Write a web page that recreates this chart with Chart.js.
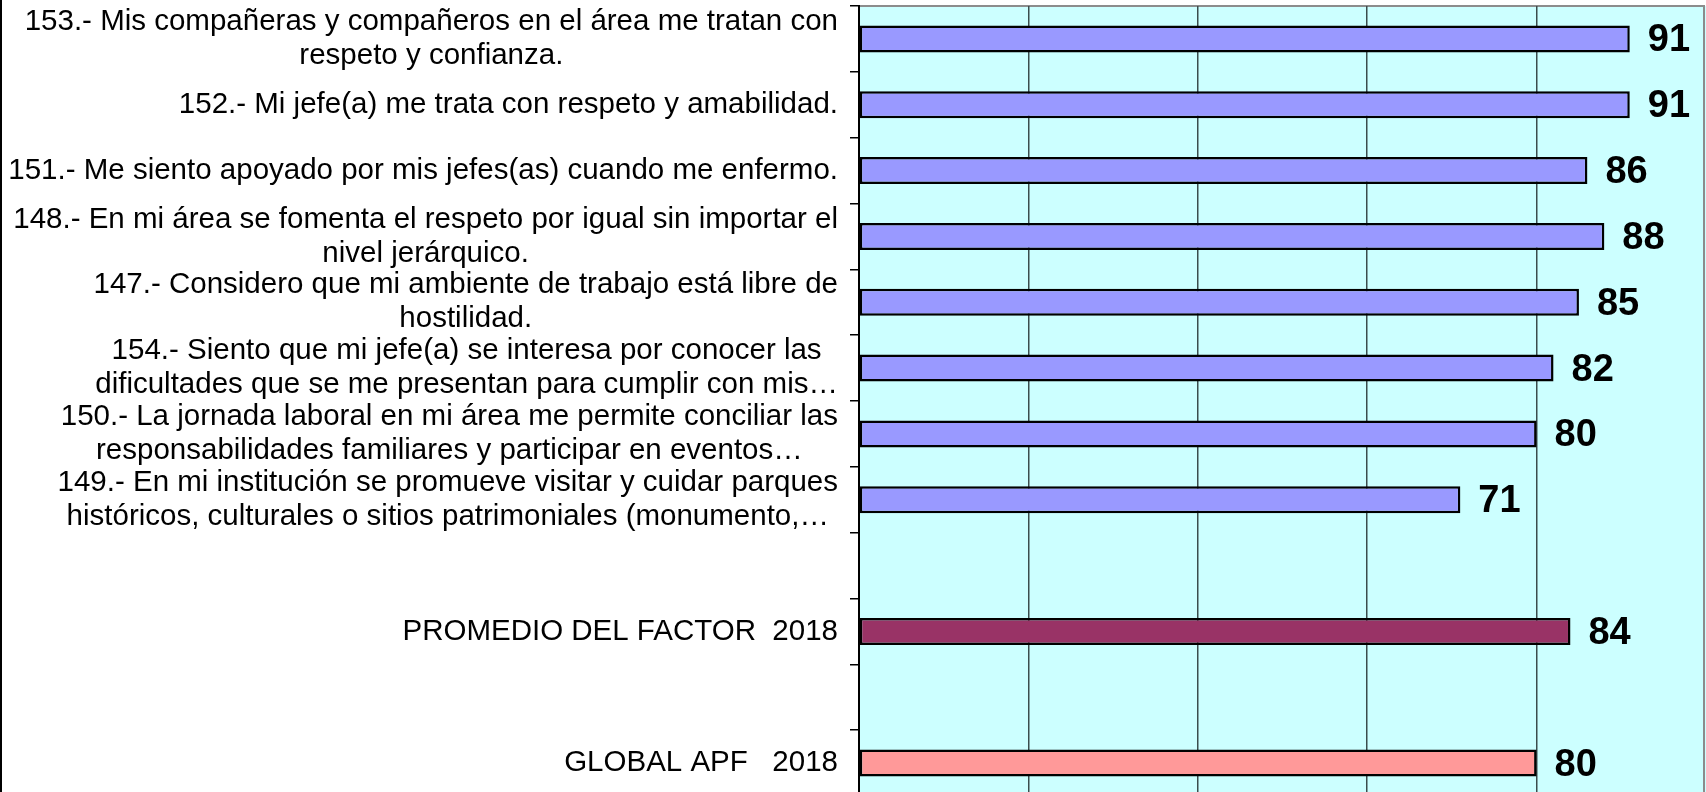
<!DOCTYPE html>
<html>
<head>
<meta charset="utf-8">
<title>Factor 2018</title>
<script src="https://cdn.jsdelivr.net/npm/chart.js@4/dist/chart.umd.min.js"></script>
<style>
  html, body { margin: 0; padding: 0; background: #fff; overflow: hidden; }
  #wrap { position: absolute; left: 0; top: 0; width: 1706px; height: 796px; }
</style>
</head>
<body>
<div id="wrap"><canvas id="factorChart" width="1706" height="796"></canvas></div>
<script>
// Data (top to bottom)
const itemLabels = [
  ['153.- Mis compañeras y compañeros en el área me tratan con', 'respeto y confianza.'],
  ['152.- Mi jefe(a) me trata con respeto y amabilidad.'],
  ['151.- Me siento apoyado por mis jefes(as) cuando me enfermo.'],
  ['148.- En mi área se fomenta el respeto por igual sin importar el', 'nivel jerárquico.'],
  ['147.- Considero que mi ambiente de trabajo está libre de', 'hostilidad.'],
  ['154.- Siento que mi jefe(a) se interesa por conocer las', 'dificultades que se me presentan para cumplir con mis…'],
  ['150.- La jornada laboral en mi área me permite conciliar las', 'responsabilidades familiares y participar en eventos…'],
  ['149.- En mi institución se promueve visitar y cuidar parques', 'históricos, culturales o sitios patrimoniales (monumento,…'],
  [''],
  ['PROMEDIO DEL FACTOR  2018'],
  [''],
  ['GLOBAL APF   2018'],
];
const itemValues = [91, 91, 86, 88, 85, 82, 80, 71, null, 84, null, 80];
const barColors = ['#9999FF', '#9999FF', '#9999FF', '#9999FF', '#9999FF', '#9999FF', '#9999FF', '#9999FF',
  '#9999FF', '#993366', '#9999FF', '#FF9999'];
const xTicks = [0, 20, 40, 60, 80, 100];

const labelFont = '29.5px "Liberation Sans", Arial, sans-serif';
const valueFont = 'bold 38px "Liberation Sans", Arial, sans-serif';

// plot background + frame
const plotBg = {
  id: 'plotBg',
  beforeDraw(chart) {
    const { ctx, chartArea: a } = chart;
    ctx.save();
    ctx.fillStyle = '#CCFFFF';
    ctx.fillRect(a.left, a.top, a.right - a.left, a.bottom - a.top);
    ctx.strokeStyle = '#8c8c8c';
    ctx.lineWidth = 2;
    ctx.beginPath();
    ctx.moveTo(a.left, a.top);
    ctx.lineTo(a.right - 2, a.top);
    ctx.lineTo(a.right - 2, a.bottom);
    ctx.stroke();
    // outer chart border on the left
    ctx.fillStyle = '#000';
    ctx.fillRect(0, 0, 2, chart.height);
    ctx.restore();
  }
};

// category labels: block right-aligned, lines centred within the block
const catLabels = {
  id: 'catLabels',
  afterDraw(chart) {
    const { ctx } = chart;
    const y = chart.scales.y;
    const xRight = y.right - 21;
    const lh = 34;
    ctx.save();
    ctx.font = labelFont;
    ctx.fillStyle = '#000';
    ctx.textBaseline = 'middle';
    chart.data.labels.forEach((lines, i) => {
      const cy = y.getPixelForTick(i);
      const w = Math.max(...lines.map(t => ctx.measureText(t).width));
      const y0 = cy - (lines.length - 1) * lh / 2;
      lines.forEach((t, j) => {
        if (lines.length === 1) {
          ctx.textAlign = 'right';
          ctx.fillText(t, xRight, y0 + j * lh);
        } else {
          ctx.textAlign = 'center';
          ctx.fillText(t, xRight - w / 2, y0 + j * lh);
        }
      });
    });
    ctx.restore();
  }
};

// value labels at the bar ends
const valueLabels = {
  id: 'valueLabels',
  afterDatasetsDraw(chart) {
    const { ctx } = chart;
    const meta = chart.getDatasetMeta(0);
    ctx.save();
    ctx.font = valueFont;
    ctx.fillStyle = '#000';
    ctx.textAlign = 'left';
    ctx.textBaseline = 'middle';
    meta.data.forEach((bar, i) => {
      const v = itemValues[i];
      if (v === null) return;
      ctx.fillText(String(v), bar.x + 18, bar.y + 2);
    });
    ctx.restore();
  }
};

new Chart(document.getElementById('factorChart'), {
  type: 'bar',
  data: {
    labels: itemLabels,
    datasets: [{
      data: itemValues,
      backgroundColor: barColors,
      borderColor: '#000',
      borderWidth: 2.5,
      borderSkipped: false,
      barPercentage: 0.41,
      categoryPercentage: 1,
    }]
  },
  options: {
    indexAxis: 'y',
    responsive: false,
    animation: false,
    layout: { padding: { top: 6, right: 0, bottom: 0, left: 0 } },
    plugins: {
      legend: { display: false },
      tooltip: { enabled: false }
    },
    scales: {
      x: {
        min: 0,
        max: 100,
        afterBuildTicks: (s) => { s.ticks = xTicks.map(v => ({ value: v })); },
        ticks: { display: false },
        border: { display: false },
        grid: {
          drawTicks: false,
          color: (c) => (c.tick && (c.tick.value === 0 || c.tick.value === 100)) ? 'rgba(0,0,0,0)' : '#3b4d4d',
          lineWidth: 1.5
        },
        afterFit: (s) => { s.height = 0; }
      },
      y: {
        ticks: { display: false },
        border: { display: true, color: '#000', width: 2 },
        grid: {
          drawOnChartArea: false,
          drawTicks: true,
          tickLength: 9,
          color: '#000',
          lineWidth: 1.5
        },
        afterFit: (s) => { s.width = 859; }
      }
    }
  },
  plugins: [plotBg, catLabels, valueLabels]
});
</script>
</body>
</html>
